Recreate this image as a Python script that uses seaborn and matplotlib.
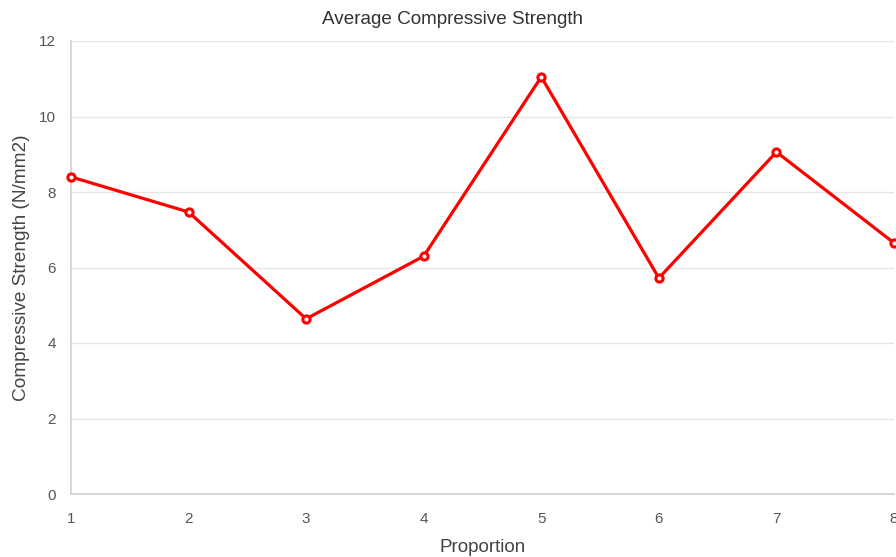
import numpy as np
import pandas as pd
import matplotlib
matplotlib.use("Agg")
import matplotlib.pyplot as plt
import seaborn as sns

# data
proportion = [1, 2, 3, 4, 5, 6, 7, 8]
strength = [8.40, 7.47, 4.64, 6.30, 11.05, 5.72, 9.06, 6.65]
y_ticks = [0, 2, 4, 6, 8, 10, 12]

df = pd.DataFrame({"Proportion": proportion, "Strength": strength})

sns.set_style("white")
plt.rcParams['font.family'] = ['Liberation Sans', 'DejaVu Sans']

fig = plt.figure(figsize=(8.96, 5.57), dpi=100)
ax = fig.add_axes([71/896, 1 - 494/557, (894 - 71)/896, (494 - 41)/557])

sns.lineplot(data=df, x="Proportion", y="Strength", ax=ax, color="#ff0000",
             linewidth=2.3, marker="o", markersize=5.2, markerfacecolor="white",
             markeredgecolor="#ff0000", markeredgewidth=2.2, clip_on=False, zorder=5)

ax.set_xlim(1, 8)
ax.set_ylim(0, 12)
ax.set_yticks(y_ticks)
ax.set_xticks(proportion)
ax.yaxis.grid(True, color="#e6e6e6", linewidth=1)
ax.xaxis.grid(False)
for s in ["top", "right"]:
    ax.spines[s].set_visible(False)
for s in ["left", "bottom"]:
    ax.spines[s].set_color("#d0d0d0")
    ax.spines[s].set_linewidth(1.2)
ax.tick_params(axis="both", length=7, color="#e6e6e6", labelsize=11,
               labelcolor="#555555", pad=4)
ax.tick_params(axis="x", length=0, pad=13)

ax.set_xlabel("Proportion", fontsize=13.6, color="#444444", labelpad=9)
ax.set_ylabel("Compressive Strength (N/mm2)", fontsize=13.7, color="#444444", labelpad=6)
fig.suptitle("Average Compressive Strength", fontsize=13.6, color="#333333",
             x=453/896, y=1 - 19/557, va="center")

fig.savefig("out.png", dpi=100)
